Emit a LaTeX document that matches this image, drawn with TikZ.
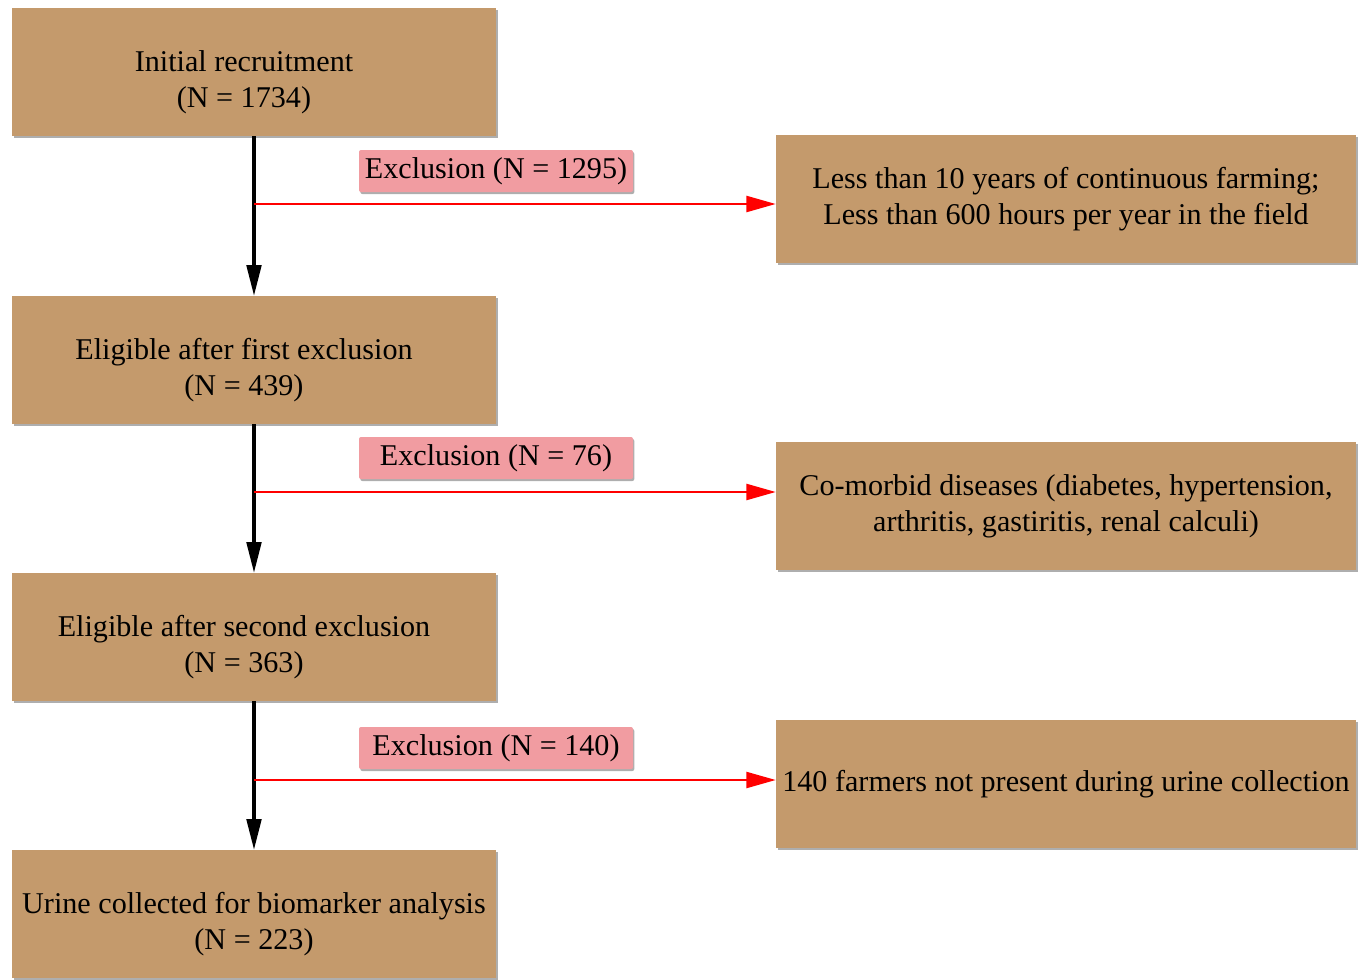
\documentclass[tikz,border=0pt]{standalone}
\usepackage{fontspec}
\setmainfont{Liberation Serif}
\usetikzlibrary{arrows.meta,shadows}

\definecolor{boxtan}{HTML}{C49A6C}
\definecolor{tagpink}{HTML}{F19CA1}
\definecolor{exred}{HTML}{FF0000}

\tikzset{
    boxfont/.style={font=\fontsize{22.6}{27}\selectfont},
    stagebox/.style={fill=boxtan, inner sep=0pt, minimum width=363pt, minimum height=96pt,
        align=center, boxfont,
        drop shadow={shadow xshift=1.2pt, shadow yshift=-1.8pt, fill=black!45, opacity=0.7}},
    stagetext/.style={align=center, boxfont, inner sep=0pt, yshift=-7.5pt},
    reasonbox/.style={stagebox, minimum width=435pt},
    tagbox/.style={fill=tagpink, rounded corners=1.5pt, inner sep=0pt, minimum width=205.5pt,
        minimum height=31.5pt, boxfont,
        drop shadow={shadow xshift=1pt, shadow yshift=-1.5pt, fill=black!45, opacity=0.7}},
    flow/.style={line width=2.3pt, -{Triangle[length=23pt,width=11pt]}},
    exclude/.style={exred, line width=1.7pt, -{Triangle[length=22pt,width=12pt]}},
}

\begin{document}
\begin{tikzpicture}[x=0.75pt, y=-0.75pt]
    \useasboundingbox (0,0) rectangle (1362,979);
    \node[stagebox, label={[stagetext, xshift=-7.5pt]center:Initial recruitment\\(N = 1734)}] (s1) at (254,72) {};
    \node[stagebox, label={[stagetext, xshift=-7.5pt]center:Eligible after first exclusion\\(N = 439)}] (s2) at (254,360) {};
    \node[stagebox, label={[stagetext, xshift=-7.5pt]center:Eligible after second exclusion\\(N = 363)}] (s3) at (254,637) {};
    \node[stagebox, label={[stagetext]center:Urine collected for biomarker analysis\\(N = 223)}] (s4) at (254,914) {};
    \node[reasonbox] (r1) at (1066,199) {Less than 10 years of continuous farming;\\Less than 600 hours per year in the field};
    \node[reasonbox] (r2) at (1066,506) {Co-morbid diseases (diabetes, hypertension,\\arthritis, gastiritis, renal calculi)};
    \node[reasonbox] (r3) at (1066,784) {140 farmers not present during urine collection};
    \node[tagbox] (t1) at (496,171) {Exclusion (N = 1295)};
    \node[tagbox] (t2) at (496,458) {Exclusion (N = 76)};
    \node[tagbox] (t3) at (496,748) {Exclusion (N = 140)};
    \coordinate (j1) at (254,204);
    \coordinate (j2) at (254,492);
    \coordinate (j3) at (254,780);
    \draw[flow] (s1) -- (s2);
    \draw[flow] (s2) -- (s3);
    \draw[flow] (s3) -- (s4);
    \draw[exclude] (j1) -- (j1 -| r1.west);
    \draw[exclude] (j2) -- (j2 -| r2.west);
    \draw[exclude] (j3) -- (j3 -| r3.west);
\end{tikzpicture}
\end{document}
